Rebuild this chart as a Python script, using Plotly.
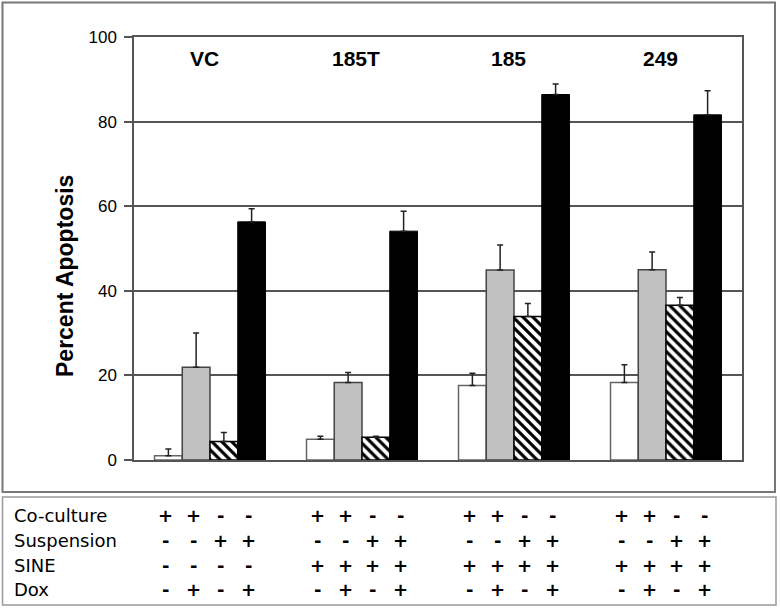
import plotly.graph_objects as go

groups = ["VC", "185T", "185", "249"]

series_names = ["Co-culture", "Co-culture + Dox", "Suspension", "Suspension + Dox"]
coculture = [1.0, 4.9, 17.6, 18.3]
coculture_err = [1.6, 0.7, 2.9, 4.2]
coculture_dox = [21.9, 18.3, 44.9, 45.0]
coculture_dox_err = [8.1, 2.4, 5.9, 4.2]
suspension = [4.4, 5.4, 33.9, 36.6]
suspension_err = [2.1, 0.2, 3.1, 1.8]
suspension_dox = [56.3, 54.1, 86.4, 81.6]
suspension_dox_err = [3.1, 4.7, 2.5, 5.7]

row_labels = ["Co-culture", "Suspension", "SINE", "Dox"]
row_coculture = ["+", "+", "-", "-"] * 4
row_suspension = ["-", "-", "+", "+"] * 4
row_sine = ["-"] * 4 + ["+"] * 12
row_dox = ["-", "+", "-", "+"] * 4

FONT = "Liberation Sans"
TABLE_FONT = "DejaVu Sans"

# pixel frame of the plot area
W, H = 780, 609
L, R, T, B = 134, 742, 37, 460


def px(x):
    return (x - L) / (R - L)


def py(y):
    return (B - y) / (B - T)


styles = [
    dict(color="white", line=dict(color="#666666", width=1.5)),
    dict(color="#c0c0c0", line=dict(color="#444444", width=1.5)),
    dict(color="white", line=dict(color="#000000", width=1.5),
         pattern=dict(shape="\\", fgcolor="black", bgcolor="white",
                      size=7, solidity=0.45, fillmode="replace")),
    dict(color="black", line=dict(color="#000000", width=1)),
]
values = [coculture, coculture_dox, suspension, suspension_dox]
errors = [coculture_err, coculture_dox_err, suspension_err, suspension_dox_err]

fig = go.Figure()
for name, vals, errs, st in zip(series_names, values, errors, styles):
    fig.add_trace(go.Bar(
        x=groups, y=vals, name=name, marker=st,
        error_y=dict(type="data", array=errs, arrayminus=[0] * len(errs),
                     symmetric=False, color="#222222", thickness=1.5, width=3),
    ))

bargap = 0.27
bar_w = (1 - bargap) / 4

annotations = []
for i, g in enumerate(groups):
    annotations.append(dict(
        x=i, y=95, xref="x", yref="y", text="<b>%s</b>" % g, showarrow=False,
        xshift=-6, font=dict(family=FONT, size=21, color="black"),
    ))

annotations.append(dict(
    x=px(65), y=py(276), xref="paper", yref="paper", text="<b>Percent Apoptosis</b>",
    xanchor="center", yanchor="middle",
    textangle=-90, showarrow=False, font=dict(family=FONT, size=23, color="black"),
))

row_y = [515, 540, 565, 589]
rows = [row_coculture, row_suspension, row_sine, row_dox]
for lab, yy, signs in zip(row_labels, row_y, rows):
    annotations.append(dict(
        x=px(12), y=py(yy), xref="paper", yref="paper", text=lab,
        xanchor="left", yanchor="middle",
        showarrow=False, font=dict(family=TABLE_FONT, size=18, color="black"),
    ))
    for j, s in enumerate(signs):
        gi, k = divmod(j, 4)
        annotations.append(dict(
            x=gi + (k - 1.5) * bar_w, y=py(yy), xref="x", yref="paper",
            xanchor="center", yanchor="middle",
            text="<b>%s</b>" % s, showarrow=False, xshift=-3,
            font=dict(family=TABLE_FONT, size=18, color="black"),
        ))

shapes = [
    dict(type="rect", xref="paper", yref="paper", x0=px(2.5), x1=px(775), y0=py(492), y1=py(2.5),
         line=dict(color="#777777", width=2), layer="below"),
    dict(type="rect", xref="paper", yref="paper", x0=px(2.5), x1=px(776), y0=py(605), y1=py(497),
         line=dict(color="#999999", width=1.5), layer="below"),
]

fig.update_layout(
    width=W, height=H,
    margin=dict(l=L, r=W - R, t=T, b=H - B),
    paper_bgcolor="white", plot_bgcolor="white",
    barmode="group", bargap=bargap, bargroupgap=0,
    showlegend=False,
    font=dict(family=FONT, color="black"),
    annotations=annotations, shapes=shapes,
    xaxis=dict(showticklabels=False, ticks="", showgrid=False, zeroline=False,
               showline=True, linecolor="#555555", linewidth=1.5, mirror=True),
    yaxis=dict(range=[0, 100], dtick=20, showgrid=True, gridcolor="#555555", gridwidth=1.5,
               zeroline=False, showline=True, linecolor="#555555", linewidth=1.5, mirror=True,
               ticks="outside", ticklen=8, tickcolor="#555555", tickwidth=1.5,
               tickfont=dict(family=FONT, size=17, color="black"), ticklabelstandoff=4),
)

# drop the default body margin so the figure sits at the page origin
fig.write_html("out.html", config={"displayModeBar": False},
               post_script="document.body.style.margin = '0';")
